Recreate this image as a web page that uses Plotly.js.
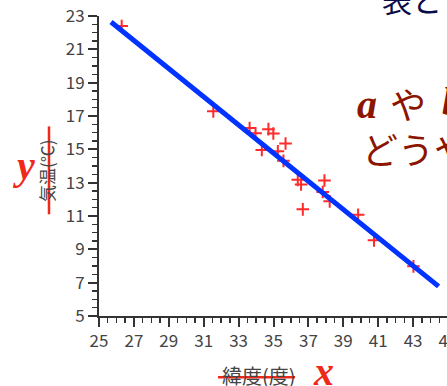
<!DOCTYPE html>
<html>
<head>
<meta charset="utf-8">
<script src="https://cdn.plot.ly/plotly-3.0.1.min.js"></script>
<style>
  html, body { margin: 0; padding: 0; overflow: hidden; background: #fff; }
  #chart { width: 520px; height: 386px; }
</style>
</head>
<body>
<div id="chart"></div>
<script>
// Latitude (deg) and mean temperature (°C) of each city
const latitude = [26.3, 31.55, 33.63, 33.97, 34.71, 34.99, 35.69, 34.33, 35.25, 35.57,
                  36.39, 36.58, 37.92, 37.82, 38.22, 36.68, 39.85, 40.76, 43.02];
const temperature = [22.4, 17.28, 16.28, 15.96, 16.21, 15.95, 15.35, 14.96, 14.88, 14.31,
                     13.17, 12.89, 13.13, 12.44, 11.88, 11.40, 11.07, 9.54, 7.98];

// Regression line end points
const fitX = [25.69, 44.46];
const fitY = [22.64, 6.78];

// Axis tick values
const xTicks = [25, 27, 29, 31, 33, 35, 37, 39, 41, 43, 45];
const yTicks = [5, 7, 9, 11, 13, 15, 17, 19, 21, 23];

const tickFont = { family: 'Noto Sans CJK JP, sans-serif', size: 17, color: '#444' };
const axisCommon = {
  showgrid: false, zeroline: false, showline: true,
  linecolor: '#333', linewidth: 2,
  ticks: 'outside', ticklen: 9, tickwidth: 2, tickcolor: '#333',
  tickfont: tickFont,
  minor: { ticks: 'outside', dtick: 0.5, ticklen: 5, tickwidth: 1.5, tickcolor: '#333', showgrid: false }
};

const points = {
  x: latitude, y: temperature,
  type: 'scatter', mode: 'markers',
  marker: { symbol: 'cross-thin', size: 9, color: '#ff2a2a', line: { width: 2, color: '#ff2a2a' } },
  hoverinfo: 'skip'
};
const fit = {
  x: fitX, y: fitY,
  type: 'scatter', mode: 'lines',
  line: { color: '#0033ff', width: 5 },
  hoverinfo: 'skip'
};

const serifBI = 'Liberation Serif, Times New Roman, serif';
const jp = 'Noto Sans CJK JP, sans-serif';
const red = '#f0281a';
const darkRed = '#8b1500';

function note(text, x, y, font, extra) {
  return Object.assign({ text: text, xref: 'paper', yref: 'paper', x: x, y: y,
    showarrow: false, xanchor: 'center', yanchor: 'middle', font: font }, extra || {});
}

const layout = {
  width: 520, height: 386,
  margin: { l: 99, r: 72, t: 16, b: 70 },
  paper_bgcolor: '#fff', plot_bgcolor: '#fff',
  showlegend: false,
  xaxis: Object.assign({}, axisCommon, { range: [25, 45], tickvals: xTicks, ticktext: xTicks.map(String) }),
  yaxis: Object.assign({}, axisCommon, { range: [5, 23], tickvals: yTicks, ticktext: yTicks.map(String) }),
  shapes: [
    { type: 'line', xref: 'paper', yref: 'paper', x0: -0.1433, x1: -0.1433, y0: 0.632, y1: 0.339,
      line: { color: red, width: 2.5 } },
    { type: 'line', xref: 'paper', yref: 'paper', x0: 0.341, x1: 0.5616, y0: -0.204, y1: -0.204,
      line: { color: red, width: 2.5 } }
  ],
  annotations: [
    // axis titles
    note('気温(℃)', -0.149, 0.487, { family: jp, size: 17, color: '#444' }, { textangle: -90 }),
    note('緯度(度)', 0.458, -0.198, { family: jp, size: 20, color: '#444' }),
    // variable names
    note('<b><i>y</i></b>', -0.215, 0.502, { family: serifBI, size: 40, color: red }),
    note('<b><i>x</i></b>', 0.642, -0.184, { family: serifBI, size: 40, color: red }),
    // headline
    note('表と', 0.805, 1.057, { family: jp, size: 30, color: '#0b0b4a' }, { xanchor: 'left' }),
    // question text
    note('<b><i>a</i></b>', 0.7665, 0.704, { family: serifBI, size: 40, color: darkRed }),
    note('や', 0.884, 0.71, { family: jp, size: 36, color: darkRed }),
    note('<b><i>b</i></b>', 1.011, 0.716, { family: serifBI, size: 40, color: darkRed }),
    note('どうや', 0.907, 0.56, { family: jp, size: 36, color: darkRed })
  ]
};

Plotly.newPlot('chart', [points, fit], layout, { displayModeBar: false, staticPlot: true });
</script>
</body>
</html>
